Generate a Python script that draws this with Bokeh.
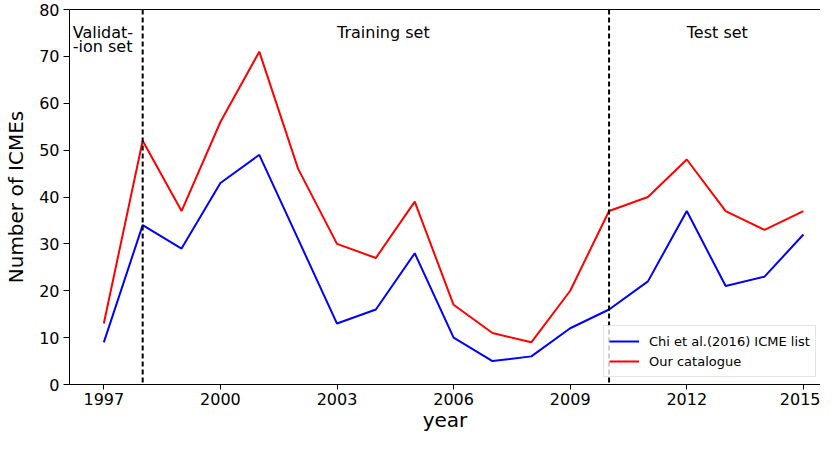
from bokeh.plotting import figure
from bokeh.models import (Range1d, FixedTicker, LinearAxis, Span, Label,
                          Legend, LegendItem)
from bokeh.embed import file_html
from bokeh.resources import INLINE

# ---- data ----
years = [1997, 1998, 1999, 2000, 2001, 2002, 2003, 2004, 2005, 2006,
         2007, 2008, 2009, 2010, 2011, 2012, 2013, 2014, 2015]
chi_icme = [9, 34, 29, 43, 49, 31, 13, 16, 28, 10, 5, 6, 12, 16, 22, 37, 21, 23, 32]
our_catalogue = [13, 52, 37, 56, 71, 46, 30, 27, 39, 17, 11, 9, 20, 37, 40, 48, 37, 33, 37]
x_ticks = [1997, 2000, 2003, 2006, 2009, 2012, 2015]
y_ticks = [0, 10, 20, 30, 40, 50, 60, 70, 80]
split_years = [1998, 2010]
series_names = ["Chi et al.(2016) ICME list", "Our catalogue"]
region_labels = [("Validat-", 1996.2, 75.0), ("-ion set", 1996.2, 72.1),
                 ("Training set", 2003.0, 75.0), ("Test set", 2012.0, 75.0)]

FONT = "DejaVu Sans"

p = figure(width=820, height=434, output_backend="svg", toolbar_location=None,
           x_range=Range1d(1996.117, 2015.44), y_range=Range1d(0, 80),
           min_border_left=69, min_border_right=0, min_border_top=9,
           min_border_bottom=30, x_axis_label="year",
           y_axis_label="Number of ICMEs")
p.outline_line_color = None
p.xgrid.visible = False
p.ygrid.visible = False
p.background_fill_color = "white"
p.border_fill_color = "white"

for ax, ticks, tout in ((p.xaxis[0], x_ticks, 5), (p.yaxis[0], y_ticks, 6)):
    ax.ticker = FixedTicker(ticks=ticks)
    ax.minor_tick_line_color = None
    ax.major_tick_in = 0
    ax.major_tick_out = tout
    ax.axis_line_color = "black"
    ax.major_tick_line_color = "black"
    ax.major_label_text_font = FONT
    ax.major_label_text_font_size = "16px"
    ax.major_label_text_color = "black"
    ax.axis_label_text_font = FONT
    ax.axis_label_text_font_size = "20px"
    ax.axis_label_text_font_style = "normal"
    ax.axis_label_text_color = "black"
p.xaxis[0].major_label_standoff = 3
p.xaxis[0].axis_label_standoff = 0
p.yaxis[0].major_label_standoff = 4
p.yaxis[0].axis_label_standoff = 8

top_axis = LinearAxis(ticker=FixedTicker(ticks=[]), major_tick_out=0,
                      major_tick_in=0, minor_tick_out=0, minor_tick_in=0,
                      major_label_text_font_size="0px", axis_line_color="black",
                      major_label_standoff=0, axis_label_standoff=0)
p.add_layout(top_axis, "above")

r_chi = p.line(years, chi_icme, line_color="#0000ff", line_width=2)
r_our = p.line(years, our_catalogue, line_color="#ff0000", line_width=2)

for yr in split_years:
    p.add_layout(Span(location=yr, dimension="height", line_color="black",
                      line_width=2, line_dash="5 3"))

for txt, x, y in region_labels:
    p.add_layout(Label(x=x, y=y, text=txt, text_font=FONT, text_font_size="16px",
                       text_color="black", text_align="left",
                       text_baseline="alphabetic"))

legend = Legend(items=[LegendItem(label=series_names[0], renderers=[r_chi]),
                       LegendItem(label=series_names[1], renderers=[r_our])],
                location=(534, 7))
legend.label_text_font = FONT
legend.label_text_font_size = "13px"
legend.label_text_color = "black"
legend.glyph_width = 30
legend.glyph_height = 20
legend.label_height = 20
legend.label_standoff = 10
legend.spacing = 0
legend.padding = 5
legend.margin = 0
legend.border_line_color = "#cccccc"
legend.border_line_width = 1
legend.background_fill_alpha = 0.8
p.add_layout(legend, "center")

open("out.html", "w").write(file_html(p, INLINE))
